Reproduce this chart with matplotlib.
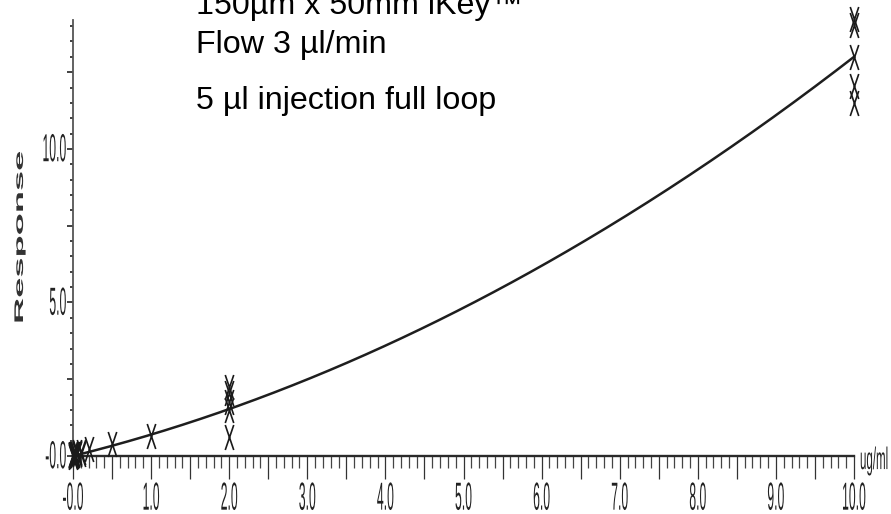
import numpy as np
import matplotlib
matplotlib.use("Agg")
import matplotlib.pyplot as plt
from matplotlib import patheffects
from matplotlib.path import Path
from matplotlib.ticker import MultipleLocator
from matplotlib.transforms import Affine2D

plt.rcParams['font.family'] = ['Liberation Sans', 'DejaVu Sans']

# calibration standards (ug/ml) and their responses
conc = [0.0, 0.0, 0.0, 0.005, 0.005, 0.01, 0.01, 0.01, 0.02, 0.02, 0.05, 0.05, 0.05,
        0.1, 0.1, 0.2, 0.5, 1.0,
        2.0, 2.0, 2.0, 2.0, 2.0, 10.0, 10.0, 10.0, 10.0, 10.0]
resp = [0.0, 0.03, -0.02, 0.02, 0.05, 0.01, 0.04, 0.07, 0.03, 0.06, 0.05, 0.09, 0.12,
        0.08, 0.12, 0.24, 0.39, 0.64,
        2.25, 2.05, 1.75, 1.50, 0.62, 14.22, 14.05, 13.00, 12.05, 11.50]

# quadratic calibration curve, highest power first
fit_coef = [0.0669, 0.631, 0.0]

xtick_vals = [0.0, 1.0, 2.0, 3.0, 4.0, 5.0, 6.0, 7.0, 8.0, 9.0, 10.0]
xtick_text = ['-0.0', '1.0', '2.0', '3.0', '4.0', '5.0', '6.0', '7.0', '8.0', '9.0', '10.0']
ytick_vals = [0.0, 5.0, 10.0]
ytick_text = ['-0.0', '5.0', '10.0']

notes = ['150µm x 50mm iKey™', 'Flow 3 µl/min', '5 µl injection full loop']


class Tall(patheffects.AbstractPathEffect):
    """stretch the text vertically around its own middle"""
    def __init__(self, sy):
        super().__init__()
        self.sy = sy

    def draw_path(self, renderer, gc, tpath, affine, rgbFace=None):
        ext = tpath.get_extents(affine)
        cy = 0.5 * (ext.y0 + ext.y1)
        affine = affine + Affine2D().translate(0, -cy).scale(1, self.sy).translate(0, cy)
        renderer.draw_path(gc, tpath, affine, rgbFace)


W, H = 891, 514
fig = plt.figure(figsize=(W / 100, H / 100), dpi=100)
ax = fig.add_axes([73 / W, 1 - 456 / H, (854 - 73) / W, (456 - 20) / H])

# narrow tall cross used by the integration software
cross = Path([(-0.17, -0.5), (0.17, 0.5), (-0.17, 0.5), (0.17, -0.5)],
             [Path.MOVETO, Path.LINETO, Path.MOVETO, Path.LINETO])

xx = np.linspace(0, 10, 300)
ax.plot(xx, np.polyval(fit_coef, xx), color='#1e1e1e', lw=1.8, clip_on=False, zorder=3)
ax.plot(conc, resp, ls='none', marker=cross, ms=18, mew=1.2, mec='#1a1a1a',
        mfc='none', clip_on=False, zorder=4)

ax.set_xlim(0, 10)
ax.set_ylim(0, 14.2)
for s in ['top', 'right']:
    ax.spines[s].set_visible(False)
ax.spines['bottom'].set_linewidth(1.7)
ax.spines['bottom'].set_color('#2a2a2a')
ax.spines['left'].set_linewidth(1.3)
ax.spines['left'].set_color('#555555')

xlab = dict(zip(xtick_vals, xtick_text))
xmajor = [round(0.5 * i, 1) for i in range(21)]
ax.set_xticks(xmajor, [xlab.get(v, '') for v in xmajor])
ax.xaxis.set_minor_locator(MultipleLocator(0.1))
ylab = dict(zip(ytick_vals, ytick_text))
ymajor = [round(2.5 * i, 1) for i in range(6)]
ax.set_yticks(ymajor, [ylab.get(v, '') for v in ymajor])
ax.yaxis.set_minor_locator(MultipleLocator(0.5))

ax.tick_params(axis='x', which='major', direction='out', length=16.5, width=0.9,
               color='#333333', pad=9, labelsize=8.8, labelcolor='#222222')
ax.tick_params(axis='x', which='minor', direction='out', length=8.6, width=0.9,
               color='#444444')
ax.tick_params(axis='y', which='major', direction='out', length=4.3, width=1.3,
               color='#333333', pad=0.5, labelsize=8.8, labelcolor='#222222')
ax.tick_params(axis='y', which='minor', direction='out', length=2.2, width=1.3,
               color='#333333')

for lbl in ax.get_xticklabels() + ax.get_yticklabels():
    lbl.set_path_effects([Tall(3.2)])
for lbl in ax.get_yticklabels():
    lbl.set_va('center')

fig.text(20 / W, 1 - 237 / H, 'Response', rotation=90, fontsize=9, fontweight='bold',
         color='#333333', ha='center', va='center', path_effects=[Tall(2.9)])
fig.text(860 / W, 1 - 461 / H, 'ug/ml', fontsize=8.3, color='#222222',
         ha='left', va='center', path_effects=[Tall(2.7)])

fig.text(196 / W, 1 - 14 / H, notes[0], fontsize=23.2, va='baseline')
fig.text(196 / W, 1 - 53 / H, notes[1], fontsize=23.2, va='baseline')
fig.text(196 / W, 1 - 109 / H, notes[2], fontsize=23.2, va='baseline')

fig.savefig('out.png', dpi=100)
